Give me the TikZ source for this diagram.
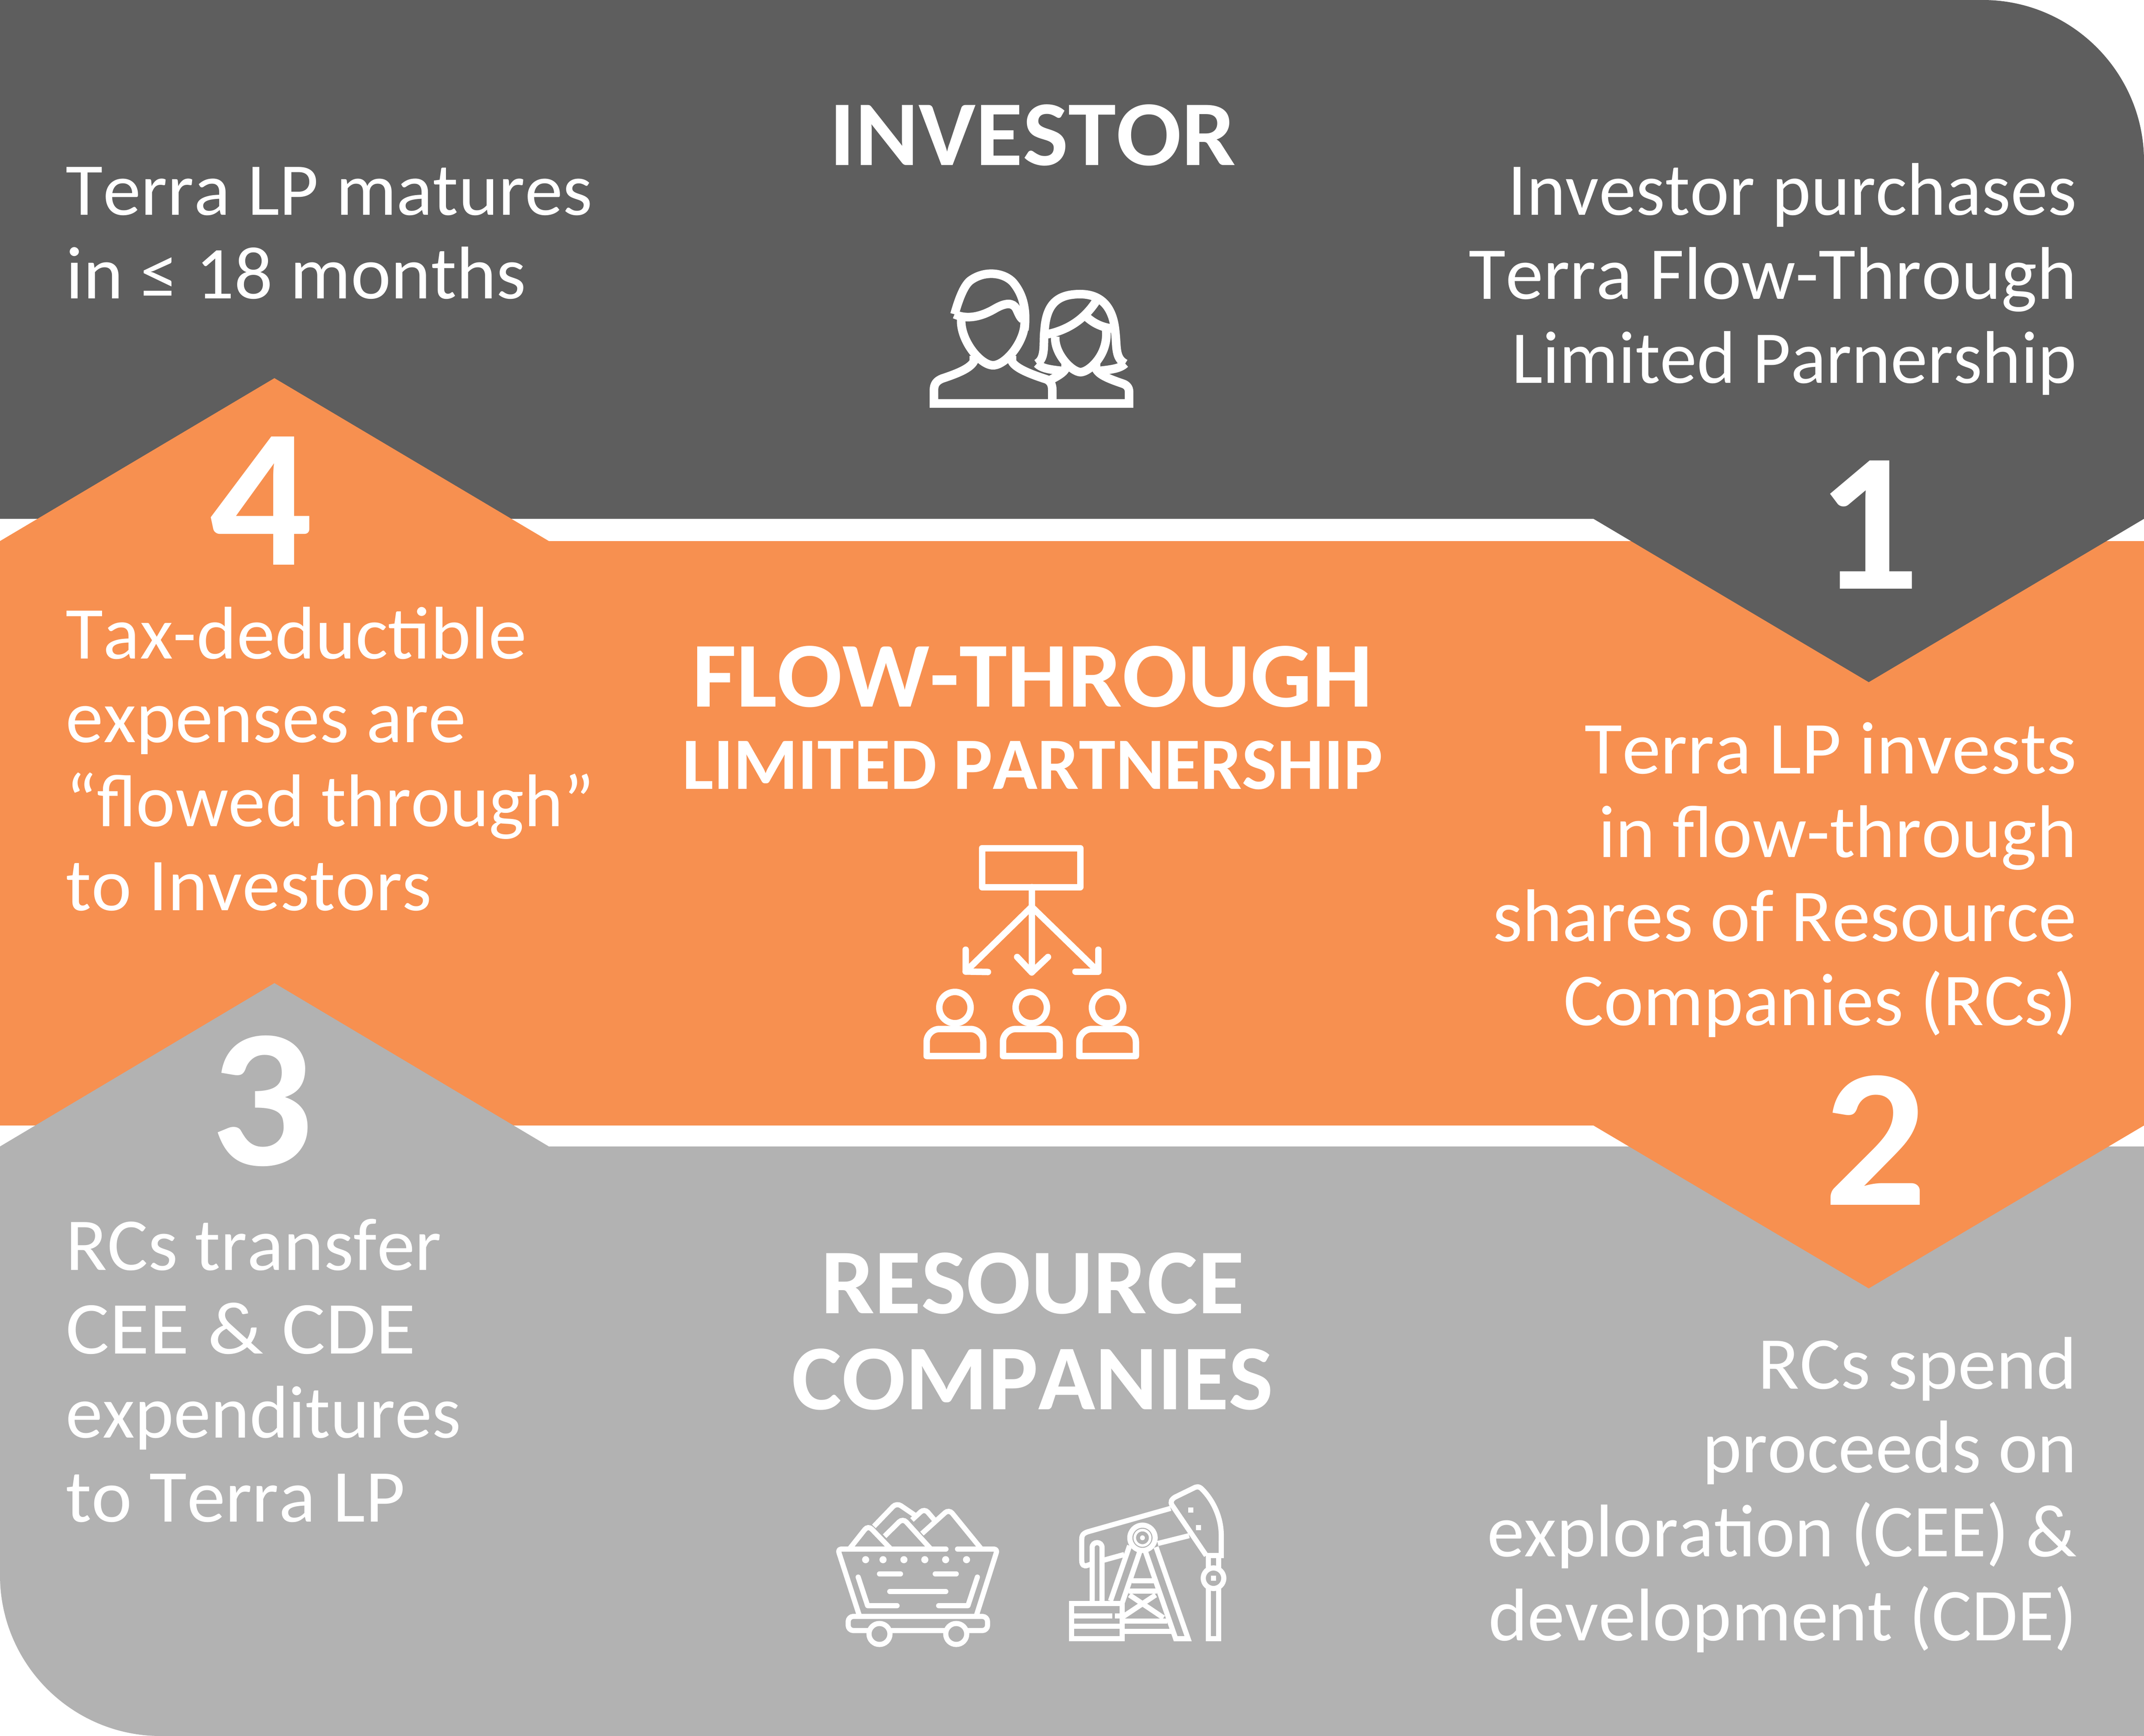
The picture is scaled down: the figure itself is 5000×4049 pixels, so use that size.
\documentclass[tikz,border=0pt]{standalone}
\usepackage{fontspec}
\setmainfont[Kerning=Off]{Carlito}
\definecolor{darkband}{HTML}{5E5E5E}
\definecolor{midband}{HTML}{F79050}
\definecolor{lightband}{HTML}{B2B2B2}
\newcommand{\linefit}[2]{{\addfontfeature{FakeStretch=#1}#2}}
\tikzset{
    bodytext/.style={text=white, inner sep=0pt, font=\fontsize{49.5}{55.6}\selectfont},
    leftcol/.style={bodytext, align=left, anchor=base west},
    rightcol/.style={bodytext, align=right, anchor=base east},
    bigtitle/.style={text=white, inner sep=0pt, anchor=base, font=\bfseries\fontsize{61.5}{70}\selectfont},
    subtitle/.style={text=white, inner sep=0pt, anchor=base, font=\bfseries\fontsize{49}{56}\selectfont},
    stepnum/.style={text=white, inner sep=0pt, anchor=base, font=\bfseries\fontsize{131}{140}\selectfont},
    iconA/.style={draw=white, line width=2mm, line join=miter},
    iconB/.style={draw=white, line width=1.5mm, line join=round, line cap=round},
    iconC/.style={draw=white, line width=1.2mm, line join=round, line cap=round},
    iconD/.style={draw=white, line width=1.2mm, line join=miter}
}
\begin{document}
\begin{tikzpicture}[x=0.01cm, y=-0.01cm]
    \useasboundingbox (0,0) rectangle (5000,4049);

    % Bands
    \fill[darkband] (0,0) -- (4624,0) .. controls (4831,0) and (5000,169) .. (5000,376) -- (5000,1210) -- (0,1210) -- cycle;
    \fill[midband] (0,1262) -- (640,882) -- (1280,1262) -- (5000,1262) -- (5000,2625) -- (0,2625) -- cycle;
    \fill[lightband] (0,2674) -- (640,2293) -- (1280,2674) -- (5000,2674) -- (5000,4049) -- (375,4049) .. controls (168,4049) and (0,3881) .. (0,3674) -- cycle;
    \fill[darkband] (3716,1205) -- (5000,1205) -- (5000,1210) -- (4358,1591) -- (3716,1210) -- cycle;
    \fill[midband] (3716,2620) -- (5000,2620) -- (5000,2625) -- (4358,3005) -- (3716,2625) -- cycle;

    % Titles
    \node[bigtitle] (investor) at (2408,386) {\linefit{1.04}{INVESTOR}};
    \node[bigtitle] (flow) at (2408,1648) {\linefit{1.04}{FLOW-THROUGH}};
    \node[subtitle] (limited) at (2408,1840) {LIMITED PARTNERSHIP};
    \node[bigtitle] (resource) at (2408,3063) {\linefit{1.03}{RESOURCE}};
    \node[bigtitle] (companies) at (2408,3287) {\linefit{1.017}{COMPANIES}};

    % Step numbers
    \node[stepnum] (one) at (4357,1373) {\linefit{1.03}{1}};
    \node[stepnum] (two) at (4374,2810) {\linefit{1.03}{2}};
    \node[stepnum] (three) at (611,2717) {\linefit{1.03}{3}};
    \node[stepnum] (four) at (609,1317) {\linefit{1.03}{4}};

    % Side texts
    \node[leftcol] (matures) at (153,697) {\linefit{1.0185}{Terra LP matures}\\\linefit{1.02}{in ≤ 18 months}};
    \node[rightcol] (purchases) at (4844,893) {\linefit{0.995}{Investor purchases}\\\linefit{1.014}{Terra Flow-Through}\\\linefit{0.99}{Limited Parnership}};
    \node[leftcol] (deductible) at (153,2123) {\linefit{1.027}{Tax-deductible}\\\linefit{1.01}{expenses are}\\\linefit{0.995}{“flowed through”}\\\linefit{1.02}{to Investors}};
    \node[rightcol] (invests) at (4844,2391) {\linefit{1.035}{Terra LP invests}\\\linefit{1.015}{in flow-through}\\\linefit{1.02}{shares of Resource}\\\linefit{1.01}{Companies (RCs)}};
    \node[leftcol] (transfer) at (153,3549) {\linefit{1.022}{RCs transfer}\\\linefit{1.095}{CEE \& CDE}\\\linefit{0.993}{expenditures}\\\linefit{1.03}{to Terra LP}};
    \node[rightcol] (spend) at (4844,3826) {\linefit{1.027}{RCs spend}\\proceeds on\\exploration (CEE) \&\\development (CDE)};

    % Investor icon
    \draw[iconA] (2271,830) -- (2271,843) .. controls (2262,860) and (2230,872) .. (2197,883) .. controls (2185,888) and (2178,895) .. (2178,910) -- (2178,941) -- (2633,941) -- (2633,913) .. controls (2633,905) and (2628,898) .. (2619,895) .. controls (2590,885) and (2562,875) .. (2556,860) -- (2556,845);
    \draw[iconA] (2360,830) -- (2360,843) .. controls (2368,860) and (2410,875) .. (2441,885) .. controls (2450,890) and (2454,897) .. (2454,910) -- (2454,941);
    \draw[iconA] (2485,845) -- (2485,860) .. controls (2480,870) and (2465,878) .. (2450,886);
    \draw[iconA] (2242,740) .. controls (2236,790) and (2285,852) .. (2316,852) .. controls (2347,852) and (2395,790) .. (2389,745);
    \draw[iconA] (2226,733) .. controls (2238,690) and (2250,665) .. (2262,655) .. controls (2295,630) and (2340,635) .. (2362,658) .. controls (2385,685) and (2395,720) .. (2389,770);
    \draw[iconA] (2226,733) .. controls (2260,748) and (2295,735) .. (2322,719) .. controls (2345,706) and (2362,705) .. (2370,720) .. controls (2375,730) and (2378,740) .. (2385,745);
    \draw[iconA] (2418,848) .. controls (2440,835) and (2432,800) .. (2436,770) .. controls (2440,710) and (2465,686) .. (2519,686) .. controls (2575,686) and (2597,725) .. (2601,775) .. controls (2605,810) and (2600,835) .. (2624,848);
    \draw[iconA] (2418,848) .. controls (2430,860) and (2450,862) .. (2476,865);
    \draw[iconA] (2624,848) .. controls (2612,860) and (2590,862) .. (2564,865);
    \draw[iconA] (2441,780) .. controls (2490,770) and (2530,745) .. (2559,698);
    \draw[iconA] (2535,740) .. controls (2552,755) and (2572,765) .. (2601,767);
    \draw[iconA] (2461,785) .. controls (2458,825) and (2500,868) .. (2520,868) .. controls (2540,868) and (2588,825) .. (2579,765);

    % Partnership icon
    \draw[iconB] (2290,1978) rectangle (2519,2069);
    \draw[iconB] (2406,2069) -- (2406,2268);
    \draw[iconB] (2406,2115) -- (2252,2266);
    \draw[iconB] (2406,2115) -- (2561,2266);
    \draw[iconB] (2252,2215) -- (2252,2266) -- (2304,2267);
    \draw[iconB] (2372,2232) -- (2406,2268) -- (2444,2232);
    \draw[iconB] (2561,2215) -- (2561,2266) -- (2508,2266);
    \foreach \px in {2227,2405,2583} {
        \draw[iconB] (\px,2350) circle (36.5);
        \draw[iconB] (\px-66,2463) [rounded corners=3mm] -- (\px-66,2400) -- (\px+66,2400) [sharp corners] -- (\px+66,2463) -- cycle;
    }

    % Mine cart icon
    \draw[iconC] (2206,3613) -- (1962,3613) .. controls (1956,3613) and (1955,3618) .. (1957,3623) -- (2004,3768);
    \draw[iconC] (2233,3613) -- (2318,3613) .. controls (2324,3613) and (2325,3618) .. (2323,3623) -- (2277,3768);
    \draw[iconC] (1978,3770) [rounded corners=1.2mm] rectangle (2303,3803);
    \foreach \wx in {2051,2230}
        \draw[iconC, fill=lightband] (\wx,3811) circle (24.5);
    \foreach \dx in {2018.7,2059.3,2108,2156.7,2205.3,2254}
        \fill[white] (\dx,3637.7) circle (8.3);
    \draw[iconC] (2051,3670.7) -- (2100,3670.7);
    \draw[iconC] (2181,3670.7) -- (2230,3670.7);
    \draw[iconC] (2075,3712) -- (2205.7,3712);
    \draw[iconC] (2001.3,3678.3) -- (2023.3,3745) -- (2092,3745);
    \draw[iconC] (2279.3,3678.3) -- (2257.3,3745) -- (2189,3745);
    \begin{scope}[rounded corners=1.2mm]
        \draw[iconD] (1981.7,3611.7) -- (2024.5,3557.7) -- (2076.7,3612);
        \draw[iconD] (2038,3560) -- (2091,3505) -- (2135,3535);
        \draw[iconD] (2063,3583) -- (2105.5,3541) -- (2170,3612);
        \draw[iconD] (2126.7,3545) -- (2156,3518) -- (2179,3545);
        \draw[iconD] (2150,3577) -- (2213,3520) -- (2288,3612);
    \end{scope}

    % Pump jack icon
    \draw[iconD] (2498.7,3740) rectangle (2616.7,3822);
    \draw[iconD] (2498.7,3769.3) -- (2594,3769.3);
    \draw[iconD] (2600,3769.3) -- (2616.7,3769.3);
    \draw[iconD] (2498.7,3792.7) -- (2616.7,3792.7);
    \draw[iconD] (2547,3740) -- (2547,3609.5) .. controls (2547,3594) and (2570,3594) .. (2570,3609.5) -- (2570,3740);
    \draw[iconD] (2730,3518) -- (2536.7,3572.7) .. controls (2527,3576) and (2522.7,3580) .. (2522.7,3590) -- (2522.7,3640) .. controls (2522.7,3650) and (2528,3654) .. (2536,3651) -- (2547,3647);
    \draw[iconD] (2570,3640) -- (2621.7,3625.7);
    \draw[iconD] (2700,3600) -- (2773,3581.7);
    \draw[iconD] (2815,3628) -- (2848,3628) -- (2848,3580) .. controls (2848,3540) and (2830,3500) .. (2803,3473) .. controls (2796,3466) and (2790,3467) .. (2783,3471) -- (2740,3492) .. controls (2732,3497) and (2729,3503) .. (2733,3510) -- (2813,3628);
    \fill[white] (2771,3516) rectangle (2783,3528);
    \fill[white] (2789,3556.7) rectangle (2801,3568.7);
    \draw[iconD] (2818,3628) rectangle (2842,3822);
    \draw[iconD, fill=lightband] (2830,3681) circle (24);
    \fill[white] (2824,3675) rectangle (2836,3687);
    \draw[iconD] (2634.3,3605) -- (2589.7,3734);
    \draw[iconD] (2657.7,3620) -- (2617.7,3736.7);
    \draw[iconD] (2671.7,3620) -- (2741.7,3822) -- (2770.7,3822) -- (2696,3608.3);
    \draw[iconD] (2640,3686.7) -- (2690.7,3686.7);
    \draw[iconD] (2631.7,3710.7) -- (2698.3,3710.7);
    \draw[iconD] (2622.7,3780.7) -- (2721.7,3780.7);
    \draw[iconD] (2622.7,3805) -- (2731.7,3805);
    \draw[iconD] (2634,3720) -- (2713.3,3773.3);
    \draw[iconD] (2695,3720) -- (2620,3770);
    \draw[iconD] (2664.3,3586.7) circle (29.5);
    \draw[draw=white, line width=0.6mm] (2664.3,3586.7) circle (18);
    \fill[white] (2664.3,3586.7) circle (5.7);
\end{tikzpicture}
\end{document}
